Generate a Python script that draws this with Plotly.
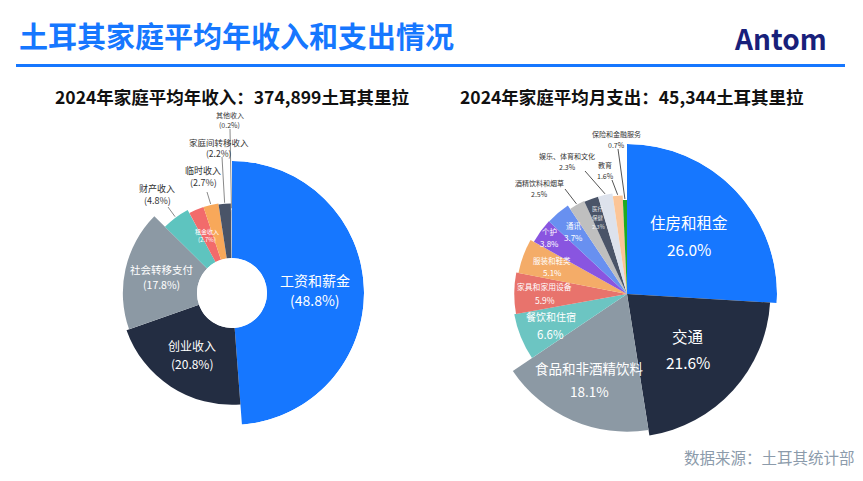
import math
import plotly.graph_objects as go

W, H = 863, 481
FONT = "Noto Sans CJK SC"

# ---------------- data ----------------
income_labels = ["工资和薪金", "创业收入", "社会转移支付", "财产收入", "租金收入",
                 "临时收入", "家庭间转移收入", "其他收入"]
income_values = [48.8, 20.8, 17.8, 4.8, 2.7, 2.7, 2.2, 0.2]
income_colors = ["#1677ff", "#232d42", "#8c99a4", "#5ec4bf", "#f26b6b",
                 "#f8a85a", "#4a5468", "#b8c0cc"]

expense_labels = ["住房和租金", "交通", "食品和非酒精饮料", "餐饮和住宿", "家具和家用设备",
                  "服装和鞋类", "个护", "通讯", "酒精饮料和烟草", "医疗保健",
                  "娱乐、体育和文化", "教育", "保险和金融服务"]
expense_values = [26.0, 21.6, 18.1, 6.6, 5.9, 5.1, 3.8, 3.7, 2.5, 2.3, 2.3, 1.6, 0.7]
expense_colors = ["#1677ff", "#232d42", "#8c99a4", "#6cc5c2", "#e8736c",
                  "#f4ac68", "#8955e0", "#6890f0", "#bfbfbf", "#4a5468",
                  "#dde2ec", "#fcc597", "#1faa1f"]

title_text = "土耳其家庭平均年收入和支出情况"
income_title = "2024年家庭平均年收入：374,899土耳其里拉"
expense_title = "2024年家庭平均月支出：45,344土耳其里拉"
source_text = "数据来源：土耳其统计部"

# ---------------- geometry / style config ----------------
LEFT = dict(cx=232, cy=293, rout=132, hole=35, a=81.7, b=50.3)
RIGHT = dict(cx=627, cy=294, rout=150, hole=0, a=86.8, b=63.2)


def paper(x, y):
    return x / W, 1 - y / H


def polar_pt(cfg, r, th):
    t = math.radians(th)
    return cfg["cx"] + r * math.sin(t), cfg["cy"] - r * math.cos(t)


def layout_slices(values, cfg):
    tot = sum(values)
    vmax = max(values)
    widths = [v / tot * 360 for v in values]
    mids, cum = [], 0
    for w in widths:
        mids.append(cum + w / 2)
        cum += w
    pix = [cfg["a"] + cfg["b"] * (v / vmax) ** 0.6 for v in values]
    return widths, mids, pix


fig = go.Figure()
annotations = []
shapes = []


def add_text(x, y, text, size, color, weight=400, xanchor="center"):
    px_, py_ = paper(x, y)
    annotations.append(dict(x=px_, y=py_, xref="paper", yref="paper", text=text,
                            showarrow=False, xanchor=xanchor, yanchor="middle",
                            font=dict(family=FONT, size=size, color=color, weight=weight)))


def add_line(x0, y0, x1, y1, color):
    a0, b0 = paper(x0, y0)
    a1, b1 = paper(x1, y1)
    shapes.append(dict(type="line", xref="paper", yref="paper", x0=a0, y0=b0, x1=a1, y1=b1,
                       line=dict(color=color, width=1)))


def build(labels, values, colors, cfg, polar_name, inside, outside, gapf):
    widths, mids, pix = layout_slices(values, cfg)
    fig.add_trace(go.Barpolar(
        theta=mids, width=widths, r=[p - cfg["hole"] for p in pix],
        marker=dict(color=colors, line=dict(width=0)),
        subplot=polar_name, hoverinfo="skip", showlegend=False))
    for i, lab in enumerate(labels):
        pct = values[i]
        if lab in inside:
            fs, pfs, fmt, frac = inside[lab]
            r = cfg["hole"] + frac * (pix[i] - cfg["hole"])
            x, y = polar_pt(cfg, r, mids[i])
            gap = gapf * fs
            ptxt = fmt.format(pct)
            if lab == "医疗保健":
                add_text(x, y - gap, "医疗", fs, "rgba(255,255,255,0.85)")
                add_text(x, y, "保健", fs, "rgba(255,255,255,0.85)")
                add_text(x, y + gap, ptxt, fs, "rgba(255,255,255,0.85)")
            else:
                add_text(x, y - gap / 2, lab, fs, "white")
                add_text(x, y + gap / 2, ptxt, pfs, "white")
        elif lab in outside:
            tx, ty, ex, ey, fs, gap, fmt, lc = outside[lab]
            add_text(tx, ty, lab, fs, "#333333")
            add_text(tx, ty + gap, fmt.format(pct), fs, "#333333")
            sx, sy = polar_pt(cfg, pix[i] + 1, mids[i])
            add_line(ex, ey, sx, sy, lc)


def dom(cfg):
    x0, x1 = (cfg["cx"] - cfg["rout"]) / W, (cfg["cx"] + cfg["rout"]) / W
    y0 = (H - cfg["cy"] - cfg["rout"]) / H
    y1 = (H - cfg["cy"] + cfg["rout"]) / H
    return dict(x=[x0, x1], y=[y0, y1])


# left (income) labels: (name size, pct size, format, radial position fraction)
left_inside = {
    "工资和薪金": (14, 14, "({:.1f}%)", 0.5),
    "创业收入": (12, 12, "({:.1f}%)", 0.5),
    "社会转移支付": (10.5, 10.5, "({:.1f}%)", 0.5),
    "租金收入": (6, 6, "({:.1f}%)", 0.5),
}
left_outside = {
    "财产收入": (157, 188, 168, 207, 9, 12, "({:.1f}%)", "#8a8a8a"),
    "临时收入": (203, 170, 207, 192, 9, 12, "({:.1f}%)", "#8a8a8a"),
    "家庭间转移收入": (219, 142, 222, 157, 8.5, 10.5, "({:.1f}%)", "#8a8a8a"),
    "其他收入": (230, 115, 230, 129, 7, 10, "({:.1f}%)", "#8a8a8a"),
}
build(income_labels, income_values, income_colors, LEFT, "polar", left_inside, left_outside, 1.42)

# right (expense) labels
right_inside = {
    "住房和租金": (15.5, 15.5, "{:.1f}%", 0.57),
    "交通": (15.5, 15.5, "{:.1f}%", 0.57),
    "食品和非酒精饮料": (13.5, 13.5, "{:.1f}%", 0.68),
    "餐饮和住宿": (10, 11.5, "{:.1f}%", 0.72),
    "家具和家用设备": (7.8, 8.5, "{:.1f}%", 0.73),
    "服装和鞋类": (7.5, 8, "{:.1f}%", 0.72),
    "个护": (7.5, 8, "{:.1f}%", 0.9),
    "通讯": (7.5, 8, "{:.1f}%", 0.77),
    "医疗保健": (5.5, 5.5, "{:.1f}%", 0.8),
}
right_outside = {
    "酒精饮料和烟草": (539, 183, 565, 189, 7, 11, "{:.1f}%", "#555555"),
    "娱乐、体育和文化": (567, 156, 585, 171, 7, 11, "{:.1f}%", "#555555"),
    "教育": (605, 165, 612, 180, 7, 11, "{:.1f}%", "#555555"),
    "保险和金融服务": (616, 134, 618, 149, 7, 11, "{:.1f}%", "#555555"),
}
build(expense_labels, expense_values, expense_colors, RIGHT, "polar2", right_inside, right_outside, 1.7)

# titles and decorations
add_text(17, 35, title_text, 29, "#1677ff", weight=700, xanchor="left")
add_text(780, 38, "Antom", 28, "#18207a", weight=700)
add_text(232, 97, income_title, 17.5, "#111111", weight=700)
add_text(632, 97, expense_title, 17.5, "#111111", weight=700)
add_text(769, 457, source_text, 15.5, "#8c9bab")
x0, y0 = paper(16, 65.5)
x1, y1 = paper(845, 65.5)
shapes.append(dict(type="line", xref="paper", yref="paper", x0=x0, y0=y0, x1=x1, y1=y1,
                   line=dict(color="#1677ff", width=3)))

polar_common = dict(
    bgcolor="rgba(0,0,0,0)",
    angularaxis=dict(visible=False, rotation=90, direction="clockwise", showgrid=False),
    gridshape="circular",
)
fig.update_layout(
    width=W, height=H,
    margin=dict(l=0, r=0, t=0, b=0),
    paper_bgcolor="white", plot_bgcolor="white",
    polar=dict(domain=dom(LEFT), hole=LEFT["hole"] / LEFT["rout"],
               radialaxis=dict(visible=False, range=[0, LEFT["rout"] - LEFT["hole"]], showgrid=False),
               **polar_common),
    polar2=dict(domain=dom(RIGHT), hole=0,
                radialaxis=dict(visible=False, range=[0, RIGHT["rout"]], showgrid=False),
                **polar_common),
    annotations=annotations,
    shapes=shapes,
    showlegend=False,
    bargap=0,
)

fig.write_html("out.html", config={"displayModeBar": False})
